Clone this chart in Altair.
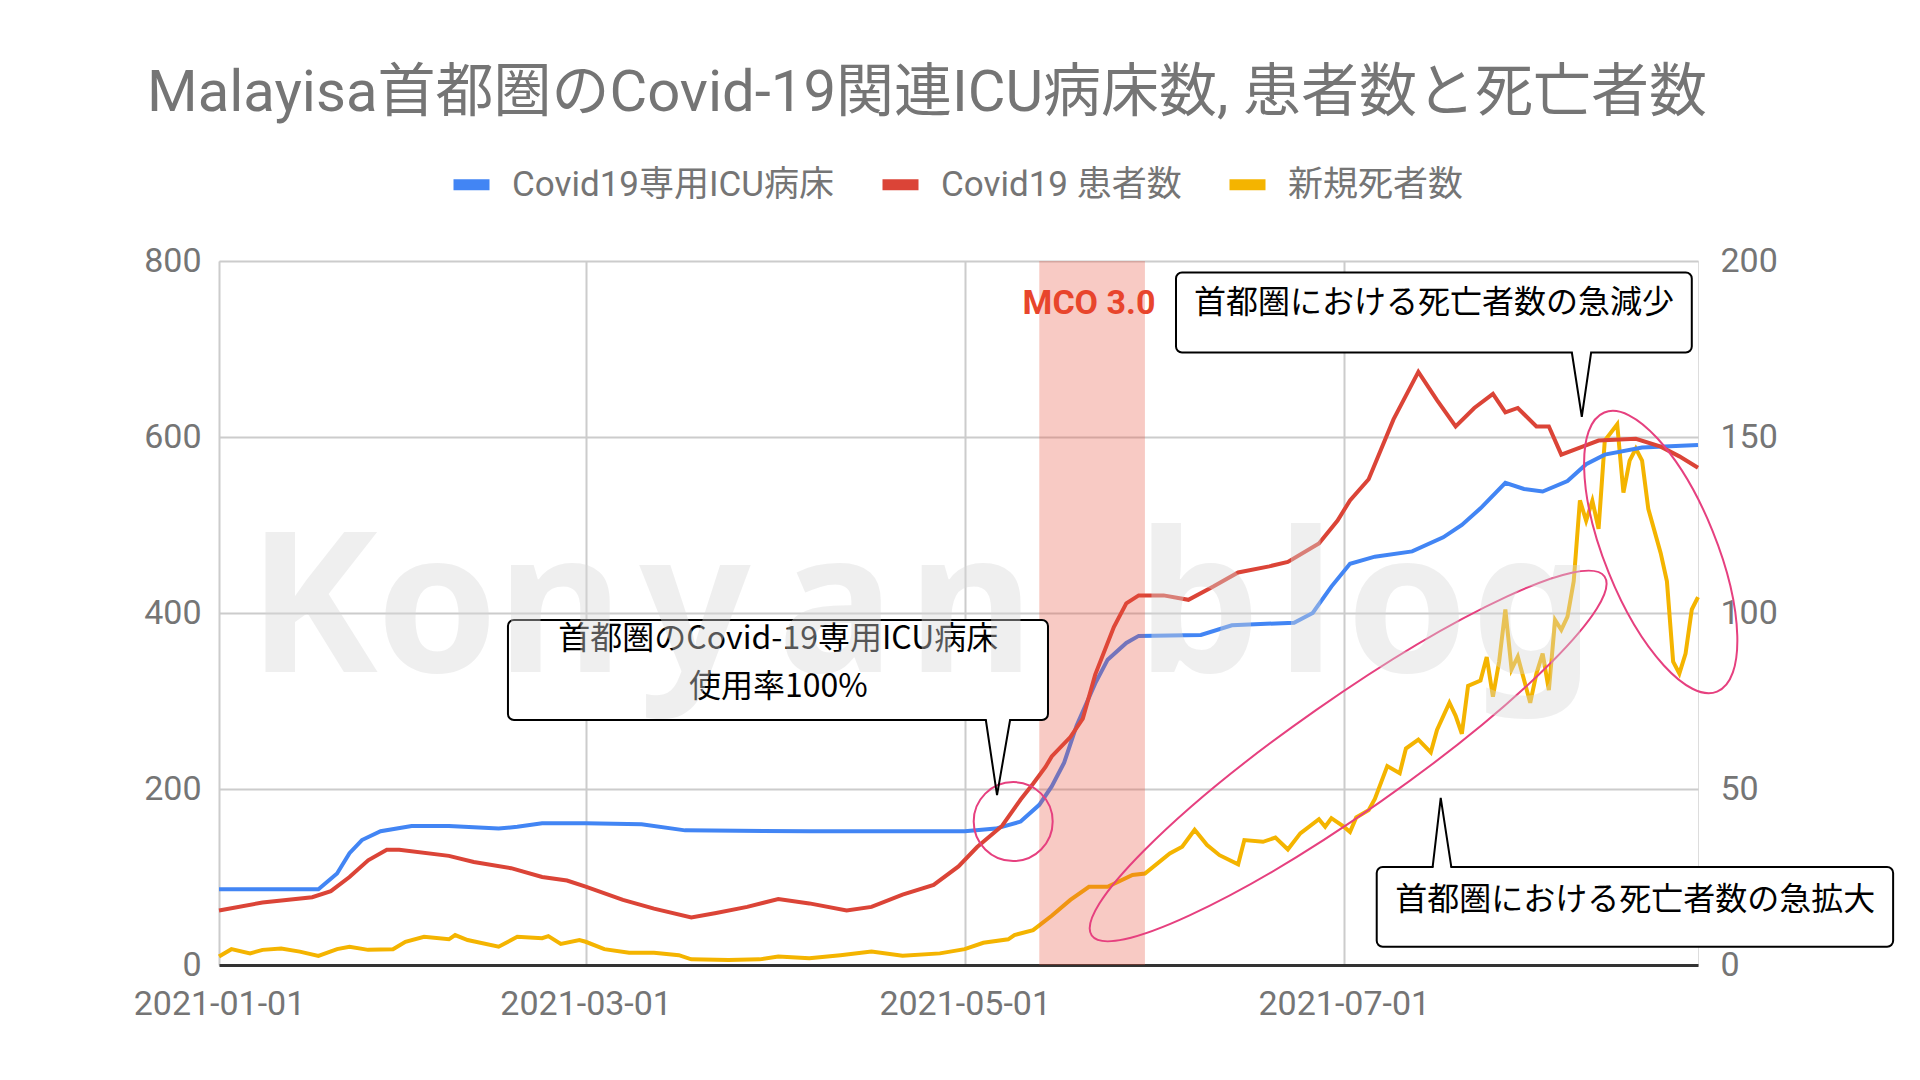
import altair as alt
import pandas as pd

# ---------------- data ----------------
SERIES = ["Covid19専用ICU病床", "Covid19 患者数", "新規死者数"]
COLORS = ["#4285f4", "#db4437", "#f4b400"]

icu_dates = ["2021-01-01", "2021-01-17", "2021-01-20", "2021-01-22", "2021-01-24", "2021-01-27",
             "2021-02-01", "2021-02-07", "2021-02-15", "2021-02-18", "2021-02-22", "2021-03-01",
             "2021-03-10", "2021-03-17", "2021-04-06", "2021-05-01", "2021-05-06", "2021-05-10",
             "2021-05-13", "2021-05-15", "2021-05-17", "2021-05-19", "2021-05-22", "2021-05-24",
             "2021-05-27", "2021-05-29", "2021-06-08", "2021-06-13", "2021-06-23", "2021-06-26",
             "2021-06-29", "2021-07-02", "2021-07-06", "2021-07-12", "2021-07-17", "2021-07-20",
             "2021-07-23", "2021-07-27", "2021-07-30", "2021-08-02", "2021-08-06", "2021-08-09",
             "2021-08-12", "2021-08-18", "2021-08-27"]
icu_beds = [86, 86, 104, 127, 142, 152,
            158, 158, 155, 157, 161, 161,
            160, 153, 152, 152, 155, 163,
            182, 203, 230, 272, 320, 347,
            366, 374, 375, 386, 389, 400,
            430, 456, 464, 470, 486, 500,
            519, 548, 541, 538, 550, 569,
            580, 588, 591]

patient_dates = ["2021-01-01", "2021-01-08", "2021-01-16", "2021-01-19", "2021-01-22", "2021-01-25",
                 "2021-01-28", "2021-01-30", "2021-02-07", "2021-02-11", "2021-02-17", "2021-02-22",
                 "2021-02-26", "2021-03-01", "2021-03-07", "2021-03-12", "2021-03-18", "2021-03-22",
                 "2021-03-27", "2021-04-01", "2021-04-06", "2021-04-12", "2021-04-16", "2021-04-21",
                 "2021-04-26", "2021-04-30", "2021-05-03", "2021-05-07", "2021-05-10", "2021-05-12",
                 "2021-05-14", "2021-05-15", "2021-05-18", "2021-05-20", "2021-05-22", "2021-05-25",
                 "2021-05-27", "2021-05-29", "2021-06-02", "2021-06-06", "2021-06-10", "2021-06-14",
                 "2021-06-19", "2021-06-22", "2021-06-27", "2021-06-30", "2021-07-02", "2021-07-05",
                 "2021-07-09", "2021-07-13", "2021-07-16", "2021-07-19", "2021-07-22", "2021-07-25",
                 "2021-07-27", "2021-07-29", "2021-08-01", "2021-08-03", "2021-08-05", "2021-08-08",
                 "2021-08-11", "2021-08-17", "2021-08-21", "2021-08-24", "2021-08-27"]
patients = [62, 71, 77, 84, 100, 119,
            131, 131, 124, 117, 110, 100,
            96, 89, 74, 64, 54, 59,
            66, 75, 70, 62, 66, 80,
            91, 112, 134, 158, 188, 206,
            225, 237, 259, 280, 330, 384,
            411, 420, 420, 415, 430, 446,
            453, 458, 479, 505, 528, 552,
            620, 674, 642, 612, 633, 649,
            628, 633, 612, 612, 580, 588,
            596, 598, 589, 578, 565]

death_dates = ["2021-01-01", "2021-01-03", "2021-01-06", "2021-01-08", "2021-01-11", "2021-01-14",
               "2021-01-17", "2021-01-20", "2021-01-22", "2021-01-25", "2021-01-29", "2021-01-31",
               "2021-02-03", "2021-02-07", "2021-02-08", "2021-02-10", "2021-02-15", "2021-02-18",
               "2021-02-22", "2021-02-23", "2021-02-25", "2021-02-28", "2021-03-01", "2021-03-04",
               "2021-03-08", "2021-03-12", "2021-03-16", "2021-03-18", "2021-03-24", "2021-03-29",
               "2021-04-01", "2021-04-06", "2021-04-11", "2021-04-16", "2021-04-21", "2021-04-27",
               "2021-05-01", "2021-05-04", "2021-05-08", "2021-05-09", "2021-05-12", "2021-05-15",
               "2021-05-18", "2021-05-21", "2021-05-24", "2021-05-28", "2021-05-30", "2021-06-03",
               "2021-06-05", "2021-06-07", "2021-06-09", "2021-06-11", "2021-06-14", "2021-06-15",
               "2021-06-18", "2021-06-20", "2021-06-22", "2021-06-24", "2021-06-27", "2021-06-28",
               "2021-06-29", "2021-07-01", "2021-07-02", "2021-07-03", "2021-07-05", "2021-07-06",
               "2021-07-08", "2021-07-10", "2021-07-11", "2021-07-13", "2021-07-15", "2021-07-16",
               "2021-07-18", "2021-07-19", "2021-07-20", "2021-07-21", "2021-07-23", "2021-07-24",
               "2021-07-25", "2021-07-26", "2021-07-27", "2021-07-28", "2021-07-29", "2021-07-31",
               "2021-08-01", "2021-08-02", "2021-08-03", "2021-08-04", "2021-08-05", "2021-08-06",
               "2021-08-07", "2021-08-08", "2021-08-09", "2021-08-10", "2021-08-11", "2021-08-12",
               "2021-08-13", "2021-08-14", "2021-08-15", "2021-08-16", "2021-08-17", "2021-08-18",
               "2021-08-19", "2021-08-21", "2021-08-22", "2021-08-23", "2021-08-24", "2021-08-25",
               "2021-08-26", "2021-08-27"]
deaths = [2.4, 4.5, 3.3, 4.3, 4.7, 3.8,
          2.6, 4.5, 5.2, 4.3, 4.5, 6.6,
          8.0, 7.3, 8.5, 7.1, 5.2, 8.0,
          7.6, 8.2, 6.0, 7.1, 6.6, 4.5,
          3.5, 3.5, 2.8, 1.6, 1.4, 1.6,
          2.4, 1.9, 2.8, 3.8, 2.6, 3.3,
          4.5, 6.3, 7.3, 8.5, 9.9, 14.0,
          18.5, 22.2, 22.2, 25.6, 26.0, 31.7,
          33.6, 38.4, 34.1, 31.2, 28.6, 35.5,
          35.0, 36.2, 32.8, 37.4, 41.4, 39.3,
          41.7, 39.3, 37.8, 41.9, 44.0, 47.2,
          56.5, 54.5, 61.5, 64.0, 60.4, 66.8,
          74.5, 70.8, 65.7, 79.3, 80.8, 87.5,
          76.2, 86.2, 101.0, 84.0, 87.6, 74.5,
          82.8, 88.5, 78.1, 98.0, 95.2, 99.0,
          109.0, 132.0, 126.2, 131.9, 123.9, 149.0,
          151.3, 153.6, 134.2, 143.3, 146.7, 143.3,
          129.6, 117.0, 109.0, 86.2, 82.8, 88.5,
          101.0, 104.5]

# MCO 3.0 period
mco_period = ["2021-05-13", "2021-05-30"]

# annotations (positions read as day-offsets from 2021-01-01 and left-axis values)
callout_days = [(46.5, 133.4), (154.0, 237.0), (186.3, 269.4)]
callout_vals = [(392, 278.4), (787, 696), (111.4, 20.8)]
tail_base_days = [(123.4, 127.3), (217.7, 220.8), (195.3, 198.3)]
tail_tips = [(125.2, 193), (219.3, 623), (196.6, 190)]
callout_texts = ["首都圏のCovid-19専用ICU病床", "使用率100%",
                 "首都圏における死亡者数の急減少", "首都圏における死亡者数の急拡大"]
callout_text_pos = [(90.0, 370.5), (90.0, 316), (195.5, 752), (227.9, 74)]
mco_label_pos = (140.0, 751.5)
ellipse_centers = [(127.8, 163), (181.7, 237.5), (232.0, 469.3)]
ellipse_len = [79, 626, 301]
ellipse_ratio = [1.0, 0.179, 0.372]
ellipse_angle = [0, 325, 68]
wm_letters = ["K", "o", "n", "y", "a", "n", "b", "l", "o", "g"]
wm_days = [15.1, 35.1, 54.9, 76.6, 99.3, 121.0, 157.7, 174.9, 191.2, 211.4]
wm_value = 333

TITLE = "Malayisa首都圏のCovid-19関連ICU病床数, 患者数と死亡者数"

# ---------------- helpers ----------------
FONT = "Roboto, 'Noto Sans CJK JP', sans-serif"
JFONT = "'Noto Sans CJK JP', Roboto, sans-serif"
GRAY = "#757575"
T0 = pd.Timestamp("2021-01-01")


def iso(d):
    return (T0 + pd.to_timedelta(d, unit="D")).strftime("%Y-%m-%dT%H:%M:%SZ")


def ellipse_path(r):
    k = 0.5523
    return (f"M1,0C1,{k*r:.4f},{k:.4f},{r:.4f},0,{r:.4f}"
            f"C{-k:.4f},{r:.4f},-1,{k*r:.4f},-1,0"
            f"C-1,{-k*r:.4f},{-k:.4f},{-r:.4f},0,{-r:.4f}"
            f"C{k:.4f},{-r:.4f},1,{-k*r:.4f},1,0Z")


def dt(y, m, d):
    return alt.DateTime(year=y, month=m, date=d, utc=True)


xscale = alt.Scale(type="utc", domain=[dt(2021, 1, 1), dt(2021, 8, 27)])
xaxis = alt.Axis(values=[dt(2021, 1, 1), dt(2021, 3, 1), dt(2021, 5, 1), dt(2021, 7, 1)],
                 labelExpr="utcFormat(datum.value, '%Y-%m-%d')", title=None, ticks=False,
                 labelFontSize=34, labelColor=GRAY, labelFont=FONT, labelPadding=22,
                 labelFlush=False, labelOverlap=False,
                 domain=True, domainColor="#333333", domainWidth=3,
                 grid=True, gridColor="#cccccc", gridWidth=2)
yscale = alt.Scale(domain=[0, 800])
yaxis = alt.Axis(orient="left", values=[0, 200, 400, 600, 800], title=None, ticks=False,
                 domain=False, labelFontSize=34, labelColor=GRAY, labelFont=FONT,
                 labelPadding=18, grid=True, gridColor="#cccccc", gridWidth=2)
y2scale = alt.Scale(domain=[0, 200])
y2axis = alt.Axis(orient="right", values=[0, 50, 100, 150, 200], title=None, ticks=False,
                  domain=False, labelFontSize=34, labelColor=GRAY, labelFont=FONT,
                  labelPadding=22, grid=False)
legend = alt.Legend(orient="none", legendX=229, legendY=-100, direction="horizontal",
                    title=None, symbolType="M-1,0L1,0", symbolSize=1296,
                    symbolStrokeWidth=11, labelFontSize=35, labelColor=GRAY,
                    labelFont=FONT, labelOffset=17, columnPadding=25, padding=0,
                    labelLimit=0)
color = alt.Color("series:N", scale=alt.Scale(domain=SERIES, range=COLORS), legend=legend)


def X(f):
    return alt.X(f, scale=xscale, axis=xaxis)


def YL(f):
    return alt.Y(f, scale=yscale, axis=yaxis)


# ---------------- tables ----------------
left_df = pd.concat([
    pd.DataFrame({"date": icu_dates, "value": icu_beds, "series": SERIES[0]}),
    pd.DataFrame({"date": patient_dates, "value": patients, "series": SERIES[1]}),
])
death_df = pd.DataFrame({"date": death_dates, "value": deaths, "series": SERIES[2]})
band_df = pd.DataFrame({"start": [mco_period[0]], "end": [mco_period[1]]})
box_df = pd.DataFrame({
    "start": [iso(a) for a, _ in callout_days], "end": [iso(b) for _, b in callout_days],
    "top": [a for a, _ in callout_vals], "bottom": [b for _, b in callout_vals],
})
edge_vals = [b for _, b in callout_vals[:2]] + [callout_vals[2][0]]
erase_df = pd.DataFrame({
    "a": [iso(a + 0.15) for a, _ in tail_base_days], "b": [iso(b - 0.15) for _, b in tail_base_days],
    "v": edge_vals,
})
tail_rows = []
for i, ((a, b), (td, tv), ev) in enumerate(zip(tail_base_days, tail_tips, edge_vals)):
    tail_rows += [{"id": i, "k": 0, "date": iso(a), "v": ev},
                  {"id": i, "k": 1, "date": iso(td), "v": tv},
                  {"id": i, "k": 2, "date": iso(b), "v": ev}]
tail_df = pd.DataFrame(tail_rows)
text_df = pd.DataFrame({"text": callout_texts, "date": [iso(d) for d, _ in callout_text_pos],
                        "v": [v for _, v in callout_text_pos]})
mco_df = pd.DataFrame({"text": ["MCO 3.0"], "date": [iso(mco_label_pos[0])], "v": [mco_label_pos[1]]})
ell_df = pd.DataFrame({
    "date": [iso(d) for d, _ in ellipse_centers], "v": [v for _, v in ellipse_centers],
    "path": [ellipse_path(r) for r in ellipse_ratio],
    "size": [L * L for L in ellipse_len], "angle": ellipse_angle,
})
wm_df = pd.DataFrame({"t": wm_letters, "date": [iso(d) for d in wm_days], "v": wm_value})

# ---------------- layers ----------------
yellow = alt.Chart(death_df).mark_line(strokeWidth=4).encode(
    x=X("date:T"), y=alt.Y("value:Q", scale=y2scale, axis=y2axis), color=color)

lines = alt.Chart(left_df).mark_line(strokeWidth=4).encode(
    x=X("date:T"), y=YL("value:Q"), color=color, detail="series:N")

band = alt.Chart(band_df).mark_rect(color="#e9513c", opacity=0.3).encode(
    x=X("start:T"), x2="end:T")

ellipses = alt.Chart(ell_df).mark_point(filled=False, color="#e6407f", strokeWidth=2,
                                        opacity=1).encode(
    x=X("date:T"), y=YL("v:Q"),
    shape=alt.Shape("path:N", scale=None, legend=None),
    size=alt.Size("size:Q", scale=None, legend=None),
    angle=alt.Angle("angle:Q", scale=None))

boxes = alt.Chart(box_df).mark_rect(fill="white", stroke="black", strokeWidth=2,
                                    cornerRadius=6).encode(
    x=X("start:T"), x2="end:T", y=YL("top:Q"), y2="bottom:Q")

erase = alt.Chart(erase_df).mark_rule(color="white", strokeWidth=4).encode(
    x=X("a:T"), x2="b:T", y=YL("v:Q"))

tails = alt.Chart(tail_df).mark_line(color="black", strokeWidth=2, strokeJoin="miter").encode(
    x=X("date:T"), y=YL("v:Q"), detail="id:N", order="k:Q")

texts = alt.Chart(text_df).mark_text(font=JFONT, fontSize=32, color="black",
                                     baseline="middle", align="center").encode(
    x=X("date:T"), y=YL("v:Q"), text="text:N")

mco = alt.Chart(mco_df).mark_text(font=FONT, fontSize=34, fontWeight="bold", color="#e8452c",
                                  baseline="middle", align="center").encode(
    x=X("date:T"), y=YL("v:Q"), text="text:N")

watermark = alt.Chart(wm_df).mark_text(font="'Noto Sans', sans-serif", fontWeight="bold",
                                       fontSize=195, color="#d8d8d8", opacity=0.4,
                                       baseline="alphabetic", align="center").encode(
    x=X("date:T"), y=YL("v:Q"), text="t:N")

left_group = alt.layer(lines, band, ellipses, boxes, erase, tails, texts, mco, watermark)

chart = alt.layer(yellow, left_group).resolve_scale(y="independent").properties(
    width=1479, height=704,
    padding={"left": 219, "top": 261, "right": 222, "bottom": 115},
    autosize=alt.AutoSizeParams(type="none"),
    title=alt.TitleParams(TITLE, anchor="start", frame="group", dx=-72, dy=-34,
                          fontSize=58, font=FONT, fontWeight="normal", color=GRAY),
).configure_view(stroke=None).configure(background="white")

chart.save("out.html", embed_options={"renderer": "svg", "actions": False})
